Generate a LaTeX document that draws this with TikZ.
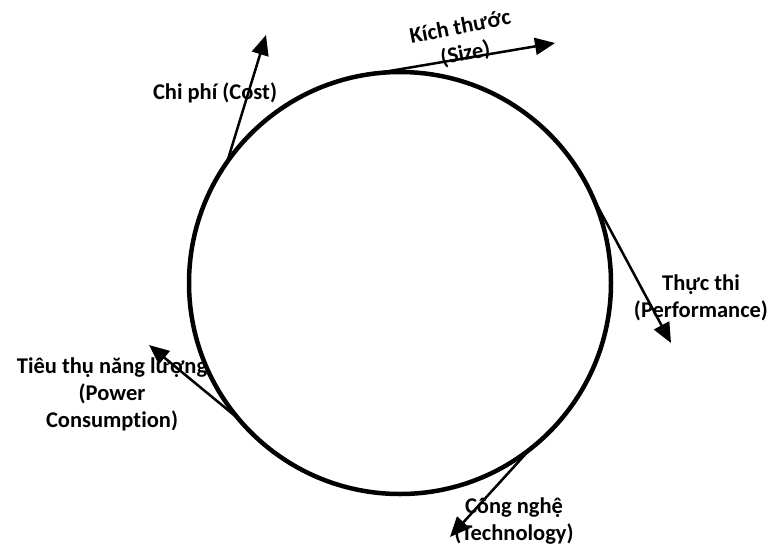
\documentclass[tikz,border=0pt]{standalone}
\usepackage{fontspec}
\setmainfont{Carlito}[Ligatures=NoCommon]
\usetikzlibrary{arrows.meta}
\tikzset{
  ring/.style={draw, circle, minimum size=422pt, line width=4.5pt, inner sep=0pt, outer sep=0pt},
  factor/.style={line width=2.5pt, -{Triangle[length=20pt,width=17pt]}},
  lbl/.style={font=\fontsize{22.5}{27}\selectfont\bfseries, align=center, inner sep=0pt}
}
\begin{document}
\begin{tikzpicture}[x=1pt,y=-1pt]
\useasboundingbox (0,0) rectangle (771,544);
\node[ring] (c) at (400,283) {};
\coordinate (tsize) at (555,43);
\coordinate (tcost) at (266,35);
\coordinate (tperf) at (671,343);
\coordinate (tpow) at (149,345);
\coordinate (ttech) at (450,537);
\draw[factor] (c.97.6) -- (tsize);
\draw[factor] (c.145.4) -- (tcost);
\draw[factor] (c.24.2) -- (tperf);
\draw[factor] (c.220.8) -- (tpow);
\draw[factor] (c.308.6) -- (ttech);
\node[lbl, rotate=11] (lsize) at (463,41) {Kích thước\\(Size)};
\node[lbl] (lcost) at (215,93) {Chi phí (Cost)};
\node[lbl] (lperf) at (701,298) {Thực thi\\(Performance)};
\node[lbl] (lpow) at (112,394) {Tiêu thụ năng lượng\\(Power\\Consumption)};
\node[lbl] (ltech) at (514,521) {Công nghệ\\(Technology)};
\end{tikzpicture}
\end{document}
